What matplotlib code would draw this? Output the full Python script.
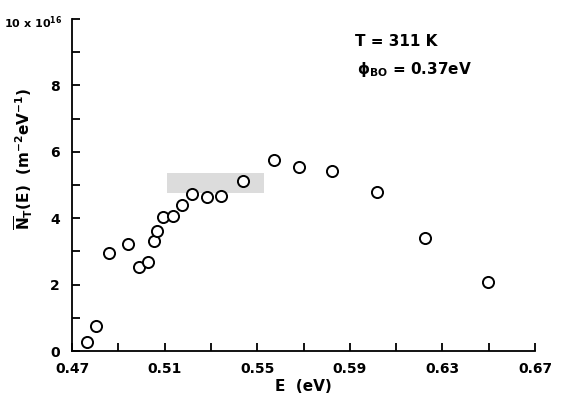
import matplotlib
matplotlib.use("Agg")
import matplotlib.pyplot as plt
from matplotlib.patches import Rectangle

# trap density vs energy
energy = [0.4763, 0.4802, 0.4861, 0.4943, 0.4989, 0.5028, 0.5055, 0.5068, 0.5094,
          0.5137, 0.5176, 0.5217, 0.5282, 0.5342, 0.5437, 0.5570, 0.5678, 0.5824,
          0.6017, 0.6225, 0.6496]
density = [0.28, 0.75, 2.94, 3.21, 2.54, 2.67, 3.31, 3.63, 4.03,
           4.07, 4.40, 4.73, 4.65, 4.67, 5.11, 5.75, 5.55, 5.42,
           4.78, 3.40, 2.07]
band_e = [0.5109, 0.5531]
band_n = [4.75, 5.35]
xticks_major = [0.47, 0.51, 0.55, 0.59, 0.63, 0.67]
yticks_major = [0, 2, 4, 6, 8, 10]
ytick_labels = ["0", "2", "4", "6", "8", ""]

plt.rcParams["font.family"] = ["DejaVu Sans"]
plt.rcParams["font.weight"] = "bold"
plt.rcParams["axes.labelweight"] = "bold"
plt.rcParams["mathtext.default"] = "bf"
plt.rcParams["hatch.color"] = "#a8a8a8"
fig = plt.figure(figsize=(5.68, 4.04), dpi=100)
ax = fig.add_axes([0.127, 0.131, 0.815, 0.822])

ax.add_patch(Rectangle((band_e[0], band_n[0]), band_e[1] - band_e[0], band_n[1] - band_n[0],
                       facecolor="#dcdcdc", edgecolor="none", hatch="....", lw=0, zorder=1))
ax.plot(energy, density, "o", ms=8, mfc="white", mec="black", mew=1.4, zorder=3)

ax.set_xlim(0.47, 0.67)
ax.set_ylim(0, 10)
ax.set_xticks(xticks_major)
ax.set_xticklabels(["%.2f" % v for v in xticks_major])
ax.set_xticks([0.49, 0.53, 0.57, 0.61, 0.65], minor=True)
ax.set_yticks(yticks_major)
ax.set_yticklabels(ytick_labels)
ax.set_yticks([1, 3, 5, 7, 9], minor=True)
ax.tick_params(direction="in", length=6, width=1.3, labelsize=10)
ax.tick_params(which="minor", direction="in", length=6, width=1.3)
ax.tick_params(axis="x", pad=8)
ax.tick_params(axis="y", pad=9)
ax.text(-0.022, 0.99, "10 x 10$^{16}$", fontsize=8,
        ha="right", va="center", transform=ax.transAxes)
for s in ("top", "right"):
    ax.spines[s].set_visible(False)
for s in ("left", "bottom"):
    ax.spines[s].set_linewidth(1.3)

ax.set_xlabel("E  (eV)", fontsize=11, labelpad=2)
ax.set_ylabel(r"$\overline{\mathbf{N}}_T$(E)  (m$^{-2}$eV$^{-1}$)", fontsize=11)
ax.yaxis.set_label_coords(-0.08, 0.58)
ax.text(0.592, 9.2, "T = 311 K", fontsize=11)
ax.text(0.593, 8.35, r"$\phi_{BO}$ = 0.37eV", fontsize=11)

fig.savefig("out.png", dpi=100)
